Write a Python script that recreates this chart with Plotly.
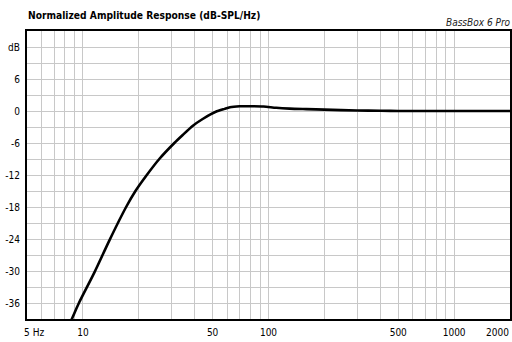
import math
import plotly.graph_objects as go

# Data
freq_hz = [8, 8.77, 9.52, 11.56, 13.92, 17.1, 19.2, 22.1, 25.8, 31.1, 34.5, 39.0, 44.2, 52,
           58, 62, 70, 80, 94, 110, 130, 160, 200, 300, 400, 500, 1000, 2000]
level_db = [-41.9, -38.8, -36, -30.2, -24.2, -18, -15, -12, -9, -6, -4.5, -2.8, -1.5, -0.15,
            0.4, 0.7, 0.88, 0.9, 0.85, 0.6, 0.45, 0.35, 0.25, 0.1, 0.05, 0.0, 0.0, 0.0]

NB = "\u00a0"
x_tick_vals = [5, 6, 7, 8, 9, 10, 20, 30, 40, 50, 60, 70, 80, 90, 100,
               200, 300, 400, 500, 600, 700, 800, 900, 1000, 2000]
x_tick_text = [NB * 5 + "5 Hz", "", "", "", "", "10", "", "", "", "50", "", "", "", "", "100",
               "", "", "", "500", "", "", "", "", "1000", "2000"]
y_tick_vals = [-36, -33, -30, -27, -24, -21, -18, -15, -12, -9, -6, -3, 0, 3, 6, 9, 12]
y_tick_text = ["-36", "", "-30", "", "-24", "", "-18", "", "-12", "", "-6", "", "0", "", "6", "", "dB"]

title_text = "Normalized Amplitude Response (dB-SPL/Hz)"
brand_text = "BassBox 6 Pro"

NARROW = "Liberation Sans Narrow, Arial Narrow, DejaVu Sans Condensed, sans-serif"

# the last tick label sits on the right edge: draw it as an annotation anchored inside
axis_tick_text = x_tick_text[:-1] + [""]
edge_val, edge_text = x_tick_vals[-1], x_tick_text[-1]

fig = go.Figure()
fig.add_trace(go.Scatter(
    x=freq_hz, y=level_db, mode="lines",
    line=dict(color="black", width=2.6, shape="spline", smoothing=0.7),
    hoverinfo="skip", showlegend=False,
))

fig.update_layout(
    width=512, height=342,
    margin=dict(l=27, r=2, t=31, b=23, autoexpand=False),
    paper_bgcolor="white", plot_bgcolor="white",
    font=dict(family=NARROW, size=10, color="black"),
    xaxis=dict(
        type="log", range=[0.69897, 3.30103], automargin=False,
        tickmode="array", tickvals=x_tick_vals, ticktext=axis_tick_text,
        showgrid=True, gridcolor="#c8c8c8", gridwidth=1,
        showline=True, linecolor="black", linewidth=2, mirror=True,
        ticks="", zeroline=False, ticklabelstandoff=3,
        tickfont=dict(family=NARROW, size=10, color="black"),
    ),
    yaxis=dict(
        range=[-39, 15], automargin=False,
        tickmode="array", tickvals=y_tick_vals, ticktext=y_tick_text,
        showgrid=True, gridcolor="#c8c8c8", gridwidth=1,
        showline=True, linecolor="black", linewidth=2, mirror=True,
        ticks="", zeroline=False, ticklabelstandoff=3,
        tickfont=dict(family=NARROW, size=10, color="black"),
    ),
    annotations=[
        dict(text="<b>" + title_text + "</b>", xref="paper", yref="paper",
             x=0, y=1, xshift=-1, yshift=8, xanchor="left", yanchor="bottom",
             showarrow=False, font=dict(family=NARROW, size=10.2, color="black")),
        dict(text="<i>" + brand_text + "</i>", xref="paper", yref="paper",
             x=1, y=1, xshift=3, yshift=1, xanchor="right", yanchor="bottom",
             showarrow=False, font=dict(family=NARROW, size=10, color="#222222")),
        dict(text=edge_text, xref="x", yref="paper",
             x=math.log10(edge_val), y=0, xshift=1, yshift=-6,
             xanchor="right", yanchor="top",
             showarrow=False, font=dict(family=NARROW, size=10, color="black")),
    ],
)

fig.write_html("out.html")
